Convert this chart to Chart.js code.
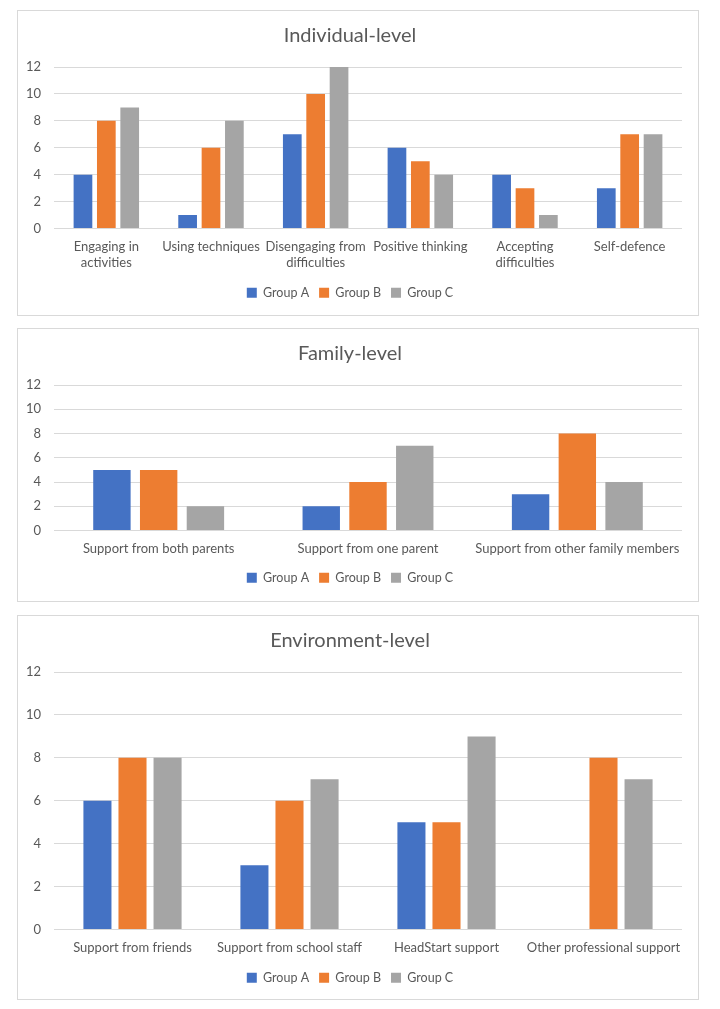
<!DOCTYPE html>
<html>
<head>
<meta charset="utf-8">
<script src="https://cdn.jsdelivr.net/npm/chart.js@4"></script>
<style>
  body { margin: 0; background: #ffffff; }
  .panel { position: absolute; left: 17px; width: 682px; border: 1px solid #D9D9D9; box-sizing: border-box; background: #fff; }
  .panel canvas { position: absolute; left: 0; top: 0; }
</style>
</head>
<body>
<div class="panel" style="top:10px;height:306px;"><canvas id="chartIndividual" width="680" height="304"></canvas></div>
<div class="panel" style="top:328px;height:274px;"><canvas id="chartFamily" width="680" height="272"></canvas></div>
<div class="panel" style="top:615px;height:385px;"><canvas id="chartEnvironment" width="680" height="383"></canvas></div>
<script>
//series names and colours
var groups = ["Group A", "Group B", "Group C"];
var groupColors = ["#4472C4", "#ED7D31", "#A5A5A5"];

//y axis ticks
var yMin = 0, yMax = 12, yStep = 2;

//individual-level
var individualLabels = [["Engaging in", "activities"], "Using techniques", ["Disengaging from", "difficulties"], "Positive thinking", ["Accepting", "difficulties"], "Self-defence"];
var individualA = [4, 1, 7, 6, 4, 3];
var individualB = [8, 6, 10, 5, 3, 7];
var individualC = [9, 8, 12, 4, 1, 7];

//family-level
var familyLabels = ["Support from both parents", "Support from one parent", "Support from other family members"];
var familyA = [5, 2, 3];
var familyB = [5, 4, 8];
var familyC = [2, 7, 4];

//environment-level
var environmentLabels = ["Support from friends", "Support from school staff", "HeadStart support", "Other professional support"];
var environmentA = [6, 3, 5, 0];
var environmentB = [8, 6, 5, 8];
var environmentC = [8, 7, 9, 7];

var FONT = "Lato, 'Open Sans', sans-serif";
var TEXT = "#595959";

function makeChart(id, title, labels, series, xHeight, padBottom) {
    var datasets = series.map(function (values, i) {
        return {
            label: groups[i],
            data: values,
            backgroundColor: groupColors[i],
            borderWidth: 0,
            categoryPercentage: 0.67,
            barPercentage: 0.8
        };
    });
    return new Chart(document.getElementById(id), {
        type: 'bar',
        data: { labels: labels, datasets: datasets },
        options: {
            responsive: false,
            animation: false,
            layout: { padding: { top: 0, right: 16, bottom: padBottom, left: 0 } },
            plugins: {
                title: {
                    display: true,
                    text: title,
                    color: TEXT,
                    font: { family: FONT, size: 20, weight: 'normal', lineHeight: 1.2 },
                    padding: { top: 13, bottom: 19 }
                },
                legend: {
                    position: 'bottom',
                    labels: {
                        color: TEXT,
                        font: { family: FONT, size: 12.5 },
                        boxWidth: 10,
                        boxHeight: 10,
                        padding: 10
                    }
                },
                tooltip: { enabled: false }
            },
            scales: {
                x: {
                    grid: { display: false, drawTicks: false },
                    border: { display: false },
                    ticks: {
                        color: TEXT,
                        font: { family: FONT, size: 13, lineHeight: 1.25 },
                        padding: 10,
                        maxRotation: 0,
                        autoSkip: false
                    },
                    afterFit: function (scale) { scale.height = xHeight; }
                },
                y: {
                    min: yMin,
                    max: yMax,
                    grid: { color: "#D9D9D9", lineWidth: 1, drawTicks: false },
                    border: { display: false },
                    ticks: {
                        stepSize: yStep,
                        color: TEXT,
                        font: { family: FONT, size: 13 },
                        padding: 13
                    },
                    afterFit: function (scale) { scale.width = 36; }
                }
            }
        }
    });
}

makeChart("chartIndividual", "Individual-level", individualLabels,
    [individualA, individualB, individualC], 48, 6);
makeChart("chartFamily", "Family-level", familyLabels,
    [familyA, familyB, familyC], 31, 7);
makeChart("chartEnvironment", "Environment-level", environmentLabels,
    [environmentA, environmentB, environmentC], 32, 5);
</script>
</body>
</html>
